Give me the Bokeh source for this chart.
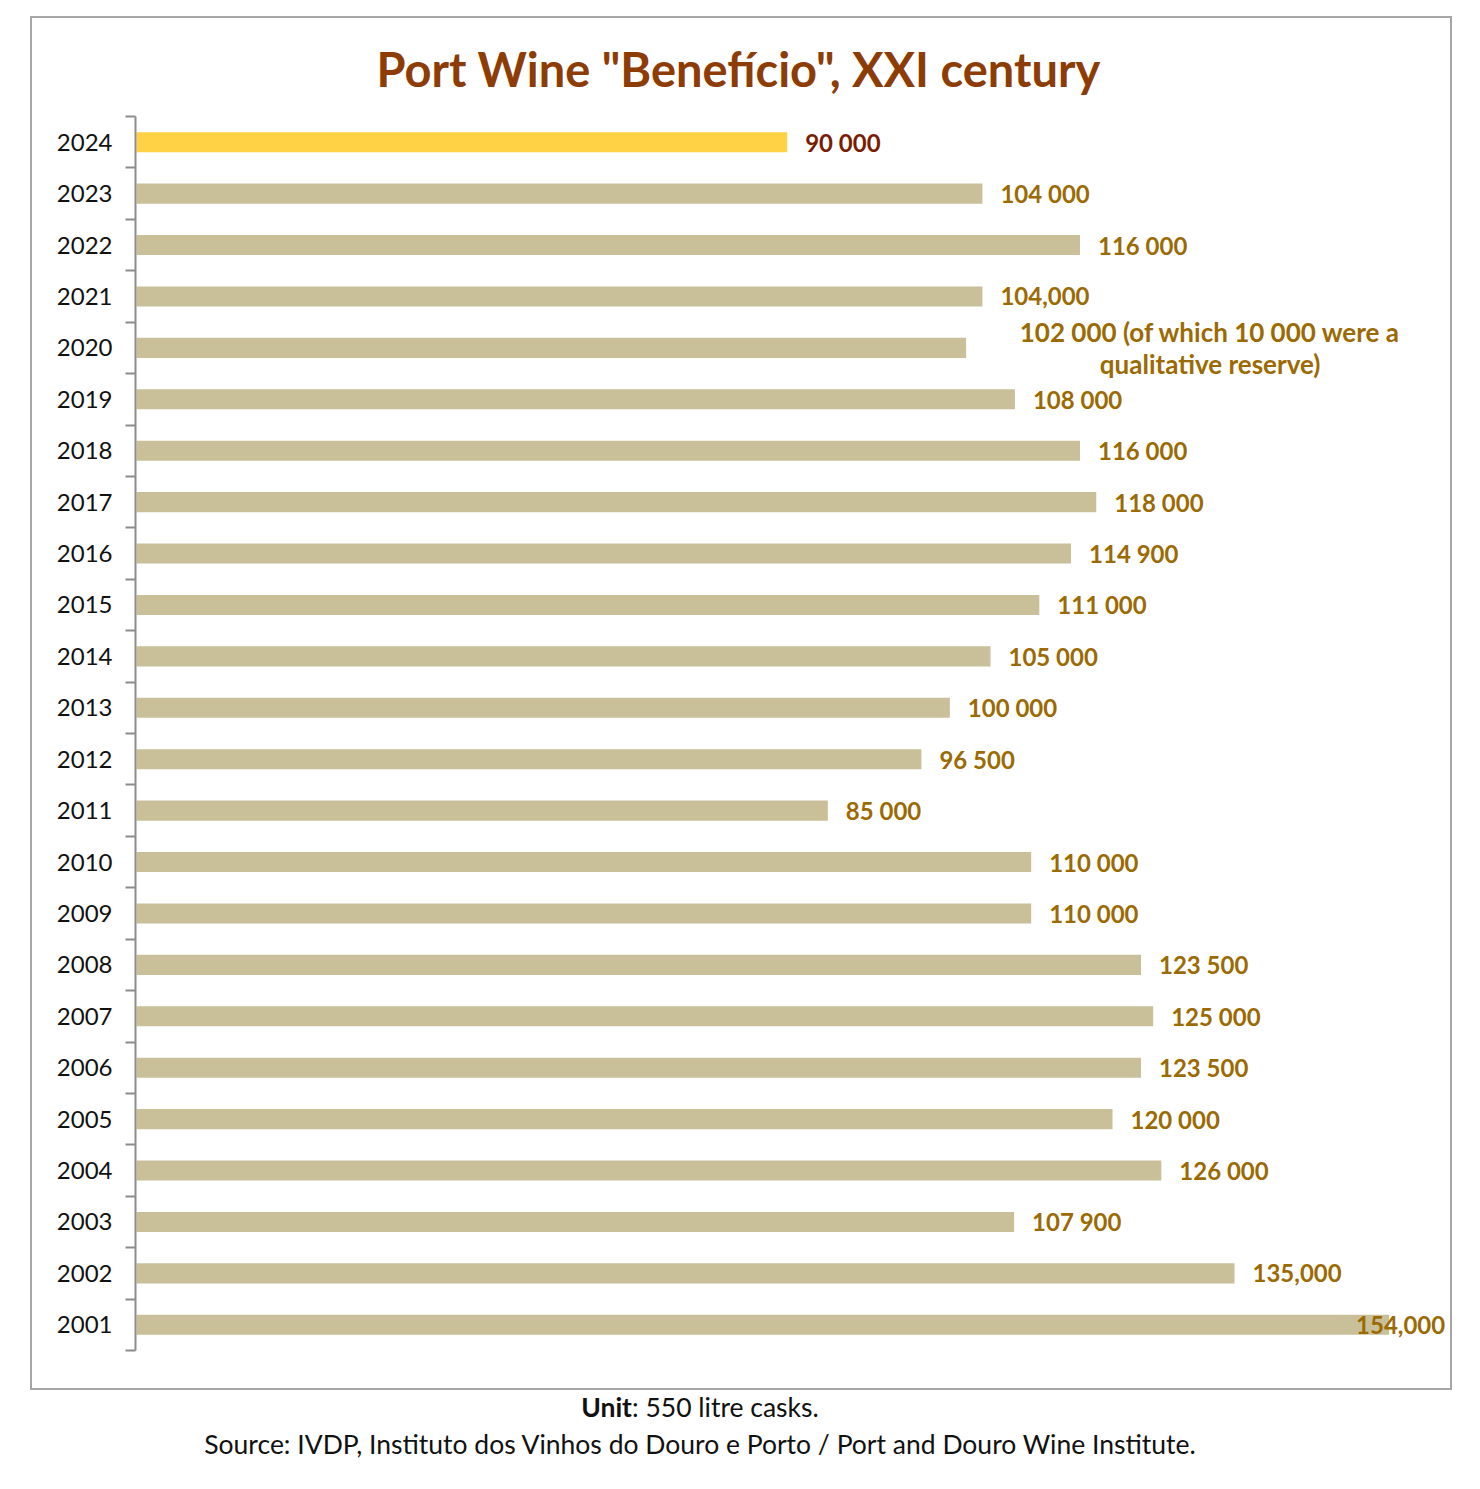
from bokeh.plotting import figure
from bokeh.models import Range1d, FixedTicker, ColumnDataSource, Div, Title, Spacer
from bokeh.layouts import column, row
from bokeh.embed import file_html
from bokeh.resources import INLINE
from bokeh.core.properties import value

# ---- data ----
years = ["2024", "2023", "2022", "2021", "2020", "2019", "2018", "2017", "2016",
         "2015", "2014", "2013", "2012", "2011", "2010", "2009", "2008", "2007",
         "2006", "2005", "2004", "2003", "2002", "2001"]
bar_values = [80000, 104000, 116000, 104000, 102000, 108000, 116000, 118000, 114900,
              111000, 105000, 100000, 96500, 85000, 110000, 110000, 123500, 125000,
              123500, 120000, 126000, 107900, 135000, 154000]
value_labels = ["90 000", "104 000", "116 000", "104,000",
                "102 000 (of which 10 000 were a\nqualitative reserve)",
                "108 000", "116 000", "118 000", "114 900", "111 000", "105 000",
                "100 000", "96 500", "85 000", "110 000", "110 000", "123 500",
                "125 000", "123 500", "120 000", "126 000", "107 900", "135,000",
                "154,000"]
highlight_year = "2024"
title_text = 'Port Wine "Benefício",  XXI century'
unit_html = "<b>Unit</b>: 550 litre casks."
source_text = "Source: IVDP, Instituto dos Vinhos do Douro e Porto / Port and Douro Wine Institute."

# ---- styles ----
TAN = "#c9c09a"
YELLOW = "#ffd246"
GOLD_TXT = "#9b6a02"
RED_TXT = "#7a1c02"
TITLE_COL = "#8e3c05"
FONT = "Lato"

n = len(years)
ypos = [i + 0.5 for i in range(n)]
colors = [YELLOW if y == highlight_year else TAN for y in years]

p = figure(width=1422, height=1374, output_backend="svg", toolbar_location=None,
           x_range=Range1d(-123, 161430), y_range=Range1d(n, 0),
           x_axis_location=None, min_border_left=103, min_border_right=5,
           min_border_top=97, min_border_bottom=42,
           styles={"border": "2px solid #a6a6a6"})
p.outline_line_color = None
p.grid.visible = False

p.add_layout(Title(text=title_text, align="left", offset=241, standoff=40,
                   text_font=FONT, text_font_size="47px", text_font_style="bold",
                   text_color=TITLE_COL), "above")

src = ColumnDataSource(dict(y=ypos, v=bar_values, c=colors))
p.hbar(y="y", left=0, right="v", height=0.39, fill_color="c", line_color=None, source=src)

# value labels
lab_y, lab_x, lab_t, lab_c, lab_off = [], [], [], [], []
multi = None
for i, (yr, v, t) in enumerate(zip(years, bar_values, value_labels)):
    if "\n" in t:
        multi = (ypos[i], v, t)
        continue
    off = 18
    if v == max(bar_values):
        off = -33
    lab_y.append(ypos[i]); lab_x.append(v); lab_t.append(t)
    lab_c.append(RED_TXT if yr == highlight_year else GOLD_TXT)
    lab_off.append(off)

lsrc = ColumnDataSource(dict(x=lab_x, y=lab_y, t=lab_t, c=lab_c, o=lab_off))
p.text(x="x", y="y", text="t", text_color="c", x_offset="o", source=lsrc,
       text_font=value(FONT), text_font_size="24px", text_font_style="bold",
       text_align="left", text_baseline="middle")
if multi is not None:
    my, mv, mt = multi
    p.text(x=[mv], y=[my], text=[mt], x_offset=244, text_color=GOLD_TXT,
           text_font=value(FONT), text_font_size="26px", text_font_style="bold",
           text_align="center", text_baseline="middle", text_line_height=1.0)

ax = p.yaxis[0]
ax.ticker = FixedTicker(ticks=ypos, minor_ticks=list(range(n + 1)))
ax.major_label_overrides = {y: yr for y, yr in zip(ypos, years)}
ax.axis_line_color = "#8c8c8c"
ax.axis_line_width = 2
ax.major_tick_line_color = None
ax.major_tick_out = 0
ax.major_tick_in = 0
ax.minor_tick_line_color = "#8c8c8c"
ax.minor_tick_line_width = 2
ax.minor_tick_in = 0
ax.minor_tick_out = 10
ax.major_label_standoff = 13
ax.major_label_text_font = FONT
ax.major_label_text_font_size = "24px"
ax.major_label_text_color = "#111111"

footer = Div(text=f'<div style="margin-top:-6px">{unit_html}<br>{source_text}</div>',
             width=1330,
             styles={"font-family": FONT, "font-size": "26.5px", "line-height": "37px",
                     "text-align": "center", "color": "#111111", "width": "1330px"})

layout = column(Spacer(height=16),
                row(Spacer(width=30), p),
                row(Spacer(width=30), footer))
open("out.html", "w").write(file_html(layout, INLINE))
